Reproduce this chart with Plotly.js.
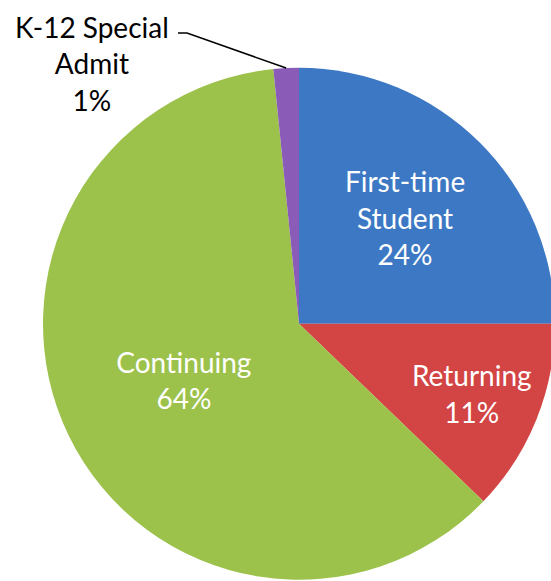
<!DOCTYPE html>
<html>
<head>
<meta charset="utf-8">
<script src="https://cdn.plot.ly/plotly-3.0.1.min.js"></script>
<style>html,body{margin:0;padding:0;background:#fff;overflow:hidden;}#chart{width:556px;height:581px;}</style>
</head>
<body>
<div id="chart"></div>
<script>
// slice sizes as drawn in the reference (angles)
var categories = ['First-time Student', 'Returning', 'Continuing', 'K-12 Special Admit'];
var displayLabels = ['First-time<br>Student', 'Returning', 'Continuing', 'K-12 Special<br>Admit'];
var values = [25, 12.2, 61.2, 1.6];
// percentages as printed on the chart
var pctLabels = ['24%', '11%', '64%', '1%'];
var colors = ['#3D78C4', '#D34444', '#9CC24B', '#8A5CB8'];

var W = 556, H = 581;
var domX = [43 / W, 555 / W], domY = [0.5 / H, 514 / H];
var total = values.reduce(function (a, b) { return a + b; }, 0);
var texts = values.map(function (v, i) {
  return i === 3 ? '' : displayLabels[i] + '<br>' + pctLabels[i];
});

// K-12 leader end point on the slice edge, from the data
var cx = (domX[0] + domX[1]) / 2 * W, cy = H - (domY[0] + domY[1]) / 2 * H;
var R = Math.min((domX[1] - domX[0]) * W, (domY[1] - domY[0]) * H) / 2;
var before = values.slice(0, 3).reduce(function (a, b) { return a + b; }, 0);
var midFrac = (before + values[3] / 2) / total;
var ang = midFrac * 2 * Math.PI;
var ex = cx + R * Math.sin(ang), ey = cy - R * Math.cos(ang);

var data = [{
  type: 'pie',
  labels: categories,
  values: values,
  text: texts,
  textinfo: 'text',
  hoverinfo: 'label',
  textposition: 'inside',
  insidetextorientation: 'horizontal',
  insidetextfont: { family: 'Lato, sans-serif', size: 28, color: '#ffffff' },
  marker: { colors: colors, line: { width: 0 } },
  sort: false,
  direction: 'clockwise',
  rotation: 0,
  domain: { x: domX, y: domY },
  showlegend: false
}];

var layout = {
  width: W, height: H,
  margin: { l: 0, r: 0, t: 0, b: 0 },
  paper_bgcolor: '#ffffff',
  showlegend: false,
  annotations: [{
    xref: 'paper', yref: 'paper',
    x: 92 / W, y: 1 - 63 / H,
    xanchor: 'center', yanchor: 'middle',
    text: displayLabels[3] + '<br>' + pctLabels[3],
    showarrow: false,
    font: { family: 'Lato, sans-serif', size: 28, color: '#000000' },
    align: 'center'
  }],
  shapes: [{
    type: 'path',
    xref: 'paper', yref: 'paper',
    path: 'M ' + (178 / W) + ',' + (1 - 33 / H) + ' L ' + (187 / W) + ',' + (1 - 33 / H) + ' L ' + (ex / W) + ',' + (1 - ey / H),
    line: { color: '#000000', width: 1.5 }
  }]
};

Plotly.newPlot('chart', data, layout, { displayModeBar: false, staticPlot: true });
</script>
</body>
</html>
